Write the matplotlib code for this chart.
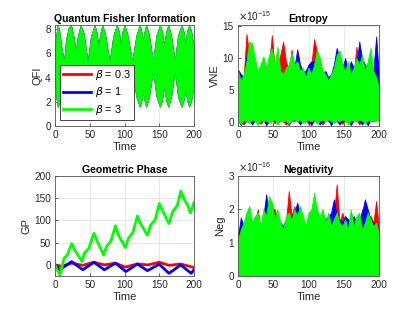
import matplotlib
matplotlib.use("Agg")
import matplotlib.pyplot as plt
from matplotlib.lines import Line2D
from matplotlib.ticker import ScalarFormatter
import numpy as np

plt.rcParams['font.family'] = ['Liberation Sans', 'DejaVu Sans']
plt.rcParams['mathtext.fontset'] = 'dejavusans'

betas = ['0.3', '1', '3']
colors = ['#ff0000', '#0000ff', '#00ff00']

# Quantum Fisher Information: envelope of the fast oscillation (same for all betas)
t_qfi = [0, 2, 4, 6, 9, 13, 16, 20, 23, 26, 30, 33, 37, 41, 47, 52, 57, 60, 62.5, 65,
         68, 72, 78.5, 84, 89, 92, 94.5, 97, 100, 104, 111, 117, 122, 125, 126.5, 128,
         131, 135, 141, 146, 151, 154, 157, 160, 163, 167, 172.5, 177, 182, 185, 187.5,
         190, 193, 196, 200]
qfi_hi = [5.95, 7.55, 8.3, 7.85, 6.55, 5.25, 7.15, 8.15, 8.3, 7.55, 6.15, 7.45, 8.3, 7.65,
          5.25, 7.45, 8.3, 7.65, 6.45, 7.55, 8.3, 7.55, 5.25, 7.45, 8.3, 7.75, 6.55, 7.75,
          8.3, 7.55, 5.25, 7.45, 8.3, 7.55, 6.95, 7.55, 8.3, 7.55, 5.25, 7.45, 8.3, 7.75,
          6.55, 7.75, 8.3, 7.45, 5.25, 7.45, 8.3, 7.75, 6.65, 7.75, 8.3, 7.75, 6.35]
qfi_lo = [3.95, 2.35, 1.6, 2.05, 3.35, 4.65, 2.75, 1.75, 1.6, 2.35, 3.75, 2.45, 1.6, 2.25,
          4.65, 2.45, 1.6, 2.25, 3.45, 2.35, 1.6, 2.35, 4.65, 2.45, 1.6, 2.15, 3.35, 2.15,
          1.6, 2.35, 4.65, 2.45, 1.6, 2.35, 2.95, 2.35, 1.6, 2.35, 4.65, 2.45, 1.6, 2.15,
          3.35, 2.15, 1.6, 2.45, 4.65, 2.45, 1.6, 2.15, 3.25, 2.15, 1.6, 2.15, 3.55]

# Entropy and negativity: peak envelopes sampled every 4 time units
t_env = list(range(0, 201, 4))
vne_hi = {
    '0.3': [7.5, 6.0, 7.0, 13.8, 10.5, 9.0, 8.5, 7.0, 8.0, 8.5, 7.5, 9.0, 13.6, 8.5, 9.0,
            10.5, 12.6, 9.5, 8.0, 11.3, 8.5, 8.0, 7.5, 7.0, 6.5, 7.5, 9.0, 13.0, 11.0, 8.5,
            7.5, 7.5, 6.0, 6.5, 7.0, 8.0, 7.5, 8.0, 7.0, 8.5, 7.0, 7.5, 11.8, 8.0, 8.5,
            7.5, 8.0, 9.0, 7.0, 6.5, 7.0],
    '1': [8.2, 7.5, 7.0, 10.3, 9.0, 8.5, 9.5, 7.0, 8.0, 9.0, 8.0, 9.0, 9.5, 8.0, 9.0,
          7.5, 7.0, 8.0, 8.5, 9.0, 8.5, 11.4, 9.0, 8.0, 8.0, 9.0, 9.5, 9.5, 8.5, 8.0,
          7.5, 8.0, 7.0, 7.5, 9.0, 11.6, 10.0, 8.5, 10.0, 8.0, 9.5, 8.5, 9.0, 12.6, 10.0,
          9.0, 8.5, 9.0, 8.0, 13.4, 7.0],
    '3': [8.0, 6.5, 7.5, 9.5, 12.6, 12.3, 10.0, 8.0, 9.0, 10.3, 8.5, 10.5, 11.5, 9.0, 11.8,
          8.0, 7.5, 8.5, 9.0, 10.8, 9.0, 9.5, 8.0, 8.5, 7.0, 8.5, 7.5, 9.0, 11.3, 10.0,
          8.0, 7.5, 6.5, 7.5, 8.5, 10.5, 11.2, 9.0, 8.0, 9.5, 7.5, 8.5, 10.0, 9.0, 10.5,
          8.0, 9.5, 11.6, 8.0, 7.0, 5.5],
}
vne_lo = {
    '0.3': [0.3, 0.2, -0.4, 0.3, 0.2, 0.3, 0.1, 0.3, -0.3, 0.2, 0.3, 0.2, 0.3, -0.2, 0.3,
            0.3, 0.1, -0.4, 0.3, 0.2, 0.3, 0.3, 0.2, 0.3, 0.3, -0.3, 0.2, 0.3, 0.3, 0.2,
            -0.4, 0.3, 0.2, 0.3, 0.2, 0.3, 0.3, -0.3, 0.2, 0.3, 0.3, 0.2, 0.3, -0.4, 0.3,
            0.2, 0.3, 0.3, 0.2, 0.3, 0.3],
    '1': [0.3, -0.5, 0.3, 0.2, 0.3, -0.4, 0.3, 0.2, 0.3, 0.3, -0.5, 0.2, 0.3, 0.3, -0.3,
          0.3, 0.2, 0.3, -0.5, 0.3, 0.2, 0.3, -0.4, 0.3, 0.3, 0.2, -0.5, 0.3, 0.3, -0.4,
          0.2, 0.3, 0.3, -0.5, 0.3, 0.2, -0.4, 0.3, 0.3, 0.2, -0.5, 0.3, 0.3, 0.2, -0.4,
          0.3, -0.5, 0.3, 0.2, 0.3, 0.3],
    '3': [0.2, -0.3, 0.3, 0.1, -0.2, 0.4, 0.2, -0.5, 0.3, 0.1, 0.3, -0.2, 0.2, 0.4, -0.4,
          0.3, 0.1, 0.2, -0.3, 0.3, 0.4, 0.1, 0.3, -0.2, 0.2, 0.3, 0.1, 0.4, -0.3, 0.2,
          0.3, 0.1, 0.4, 0.2, -0.2, 0.3, 0.1, 0.4, 0.2, -0.4, 0.3, 0.2, 0.1, 0.4, 0.2,
          -0.3, 0.3, 0.1, 0.2, 0.3, 0.1],
}
neg_hi = {
    '0.3': [1.3, 1.5, 1.3, 1.6, 1.5, 1.4, 1.6, 2.0, 1.4, 1.7, 1.6, 1.8, 2.05, 2.0, 1.7,
            1.5, 1.3, 1.6, 2.55, 1.8, 2.1, 1.6, 1.7, 1.5, 1.4, 1.6, 1.7, 1.9, 1.7, 1.6,
            1.7, 1.5, 1.6, 1.7, 1.8, 2.75, 1.6, 1.9, 1.6, 1.5, 1.9, 1.6, 1.7, 1.6, 2.0,
            1.8, 1.7, 1.8, 1.6, 2.25, 1.4],
    '1': [1.2, 1.75, 1.5, 1.7, 1.6, 1.5, 1.5, 1.6, 1.4, 1.8, 2.45, 1.9, 2.2, 1.6, 1.8,
          1.6, 1.5, 1.7, 1.6, 1.8, 1.9, 2.2, 1.9, 1.6, 1.5, 1.7, 1.8, 1.9, 1.9, 1.7,
          1.8, 1.7, 1.8, 1.9, 2.3, 1.8, 1.7, 1.6, 1.8, 1.7, 1.6, 1.8, 1.6, 1.7, 1.9,
          2.3, 2.0, 1.7, 1.6, 1.5, 1.0],
    '3': [1.1, 1.4, 1.6, 1.9, 2.1, 1.6, 1.8, 1.9, 1.5, 2.0, 1.8, 2.4, 2.2, 1.7, 2.0,
          1.6, 1.4, 1.8, 1.9, 1.7, 2.0, 1.8, 2.1, 1.8, 1.5, 1.9, 2.0, 2.5, 2.0, 1.8,
          2.0, 1.6, 1.9, 1.5, 1.7, 1.9, 1.6, 1.5, 1.7, 1.4, 2.0, 1.5, 1.8, 1.9, 1.4,
          1.6, 1.9, 1.7, 1.5, 1.6, 1.2],
}

# Geometric phase
t_gp = {
    '0.3': [0, 10, 24, 40, 56, 71, 87, 101, 118, 134, 150, 164, 181, 200],
    '1': [0, 7, 24, 40, 56, 71, 87, 102, 118.6, 133, 150, 164, 181, 196, 200],
    '3': [0, 7, 13, 17.6, 24, 29.5, 33, 39, 42, 48.6, 56, 60.5, 70, 74, 80.5, 87, 91.4,
          101, 105.7, 112, 118.6, 124, 133, 137.6, 144, 150, 155.7, 164, 169, 176, 181,
          186.7, 191, 195, 200],
}
gp = {
    '0.3': [0, -3, 4, -1, 6, 0, 4, -5, 2, 0, 6, -1, 2, -6],
    '1': [0, -11, 7.5, -11, 6, -11, 4, -15, 2, -13, 1.5, -19, 0, -19, -11],
    '3': [0, -24, 15, 22, 48, 30, 22, 7.5, 26, 37, 71, 54, 22, 41, 54, 88, 67, 39, 60,
          73, 110, 90, 67, 90, 101, 138, 119, 93, 119, 134, 166, 145, 134, 117, 140],
}

W, H = 420, 315
fig = plt.figure(figsize=(W / 100, H / 100), dpi=100)


class FixedOrder(ScalarFormatter):
    def __init__(self, order):
        self.order = order
        super().__init__(useMathText=True)

    def _set_order_of_magnitude(self):
        self.orderOfMagnitude = self.order

    def _set_format(self):
        self.format = '%1.0f'


def make_ax(x0, x1, y0, y1):
    return fig.add_axes([x0 / W, 1 - y1 / H, (x1 - x0) / W, (y1 - y0) / H])


def style(ax, title, ylabel):
    ax.set_xlim(0, 200)
    ax.set_xticks([0, 50, 100, 150, 200])
    ax.grid(True, color='#e3e3e3', linewidth=0.6)
    ax.set_axisbelow(True)
    for s in ax.spines.values():
        s.set_color('#555555')
        s.set_linewidth(0.6)
        s.set_zorder(5)
    ax.tick_params(direction='in', length=2.5, width=0.5, labelsize=7.2,
                   colors='#262626', pad=3)
    ax.set_title(title, fontsize=7.6, fontweight='bold', pad=2.5)
    ax.set_xlabel('Time', fontsize=8, color='#262626', labelpad=1)
    ax.set_ylabel(ylabel, fontsize=8, color='#262626', labelpad=2)


ax1 = make_ax(55, 194, 25, 126)
ax2 = make_ax(238, 379, 25, 126)
ax3 = make_ax(55, 194, 176, 276)
ax4 = make_ax(238, 379, 176, 276)

# QFI
for b, c in zip(betas, colors):
    ax1.fill_between(t_qfi, qfi_lo, qfi_hi, color=c, linewidth=0.6, zorder=2)
ax1.set_ylim(0, 8.33)
ax1.set_yticks([0, 2, 4, 6, 8])
style(ax1, 'Quantum Fisher Information', 'QFI')
handles = [Line2D([], [], color=c, linewidth=2) for c in colors]
leg = ax1.legend(handles, [r'$\beta$ = ' + b for b in betas], loc='lower left',
                 bbox_to_anchor=(0.035, 0.06), fontsize=7.8, handlelength=2.6,
                 handletextpad=0.35, borderpad=0.3, labelspacing=0.3,
                 borderaxespad=0, fancybox=False, framealpha=1)
leg.get_frame().set_edgecolor('#262626')
leg.get_frame().set_linewidth(0.6)
leg.set_zorder(6)

# Entropy
for b, c in zip(betas, colors):
    ax2.fill_between(t_env, np.array(vne_lo[b]) * 1e-15, np.array(vne_hi[b]) * 1e-15,
                     color=c, linewidth=0.6, zorder=2)
ax2.set_ylim(-0.63e-15, 15.2e-15)
ax2.set_yticks([0, 5e-15, 10e-15, 15e-15])
ax2.yaxis.set_major_formatter(FixedOrder(-15))
style(ax2, 'Entropy', 'VNE')
ax2.yaxis.get_offset_text().set_fontsize(7.2)
ax2.yaxis.get_offset_text().set_color('#262626')

# Geometric phase
for b, c in zip(betas, colors):
    ax3.plot(t_gp[b], gp[b], color=c, linewidth=2, zorder=3)
ax3.set_ylim(-25, 200)
ax3.set_yticks([0, 50, 100, 150, 200])
style(ax3, 'Geometric Phase', 'GP')

# Negativity
for b, c in zip(betas, colors):
    ax4.fill_between(t_env, 0, np.array(neg_hi[b]) * 1e-16, color=c, linewidth=0.6,
                     zorder=2)
ax4.set_ylim(0, 3e-16)
ax4.set_yticks([0, 1e-16, 2e-16, 3e-16])
ax4.yaxis.set_major_formatter(FixedOrder(-16))
style(ax4, 'Negativity', 'Neg')
ax4.yaxis.get_offset_text().set_fontsize(7.2)
ax4.yaxis.get_offset_text().set_color('#262626')

fig.savefig('out.png', dpi=100)
